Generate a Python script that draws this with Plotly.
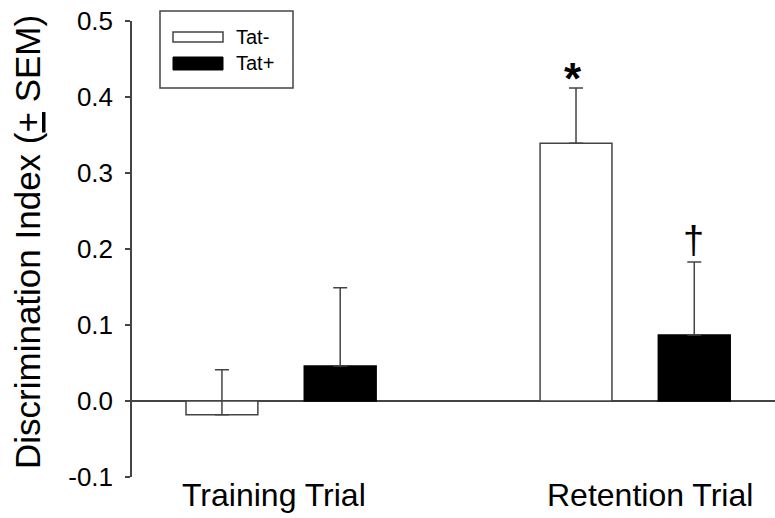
import plotly.graph_objects as go

# ---- data ----
trials = ["Training Trial", "Retention Trial"]
series_names = ["Tat-", "Tat+"]
tat_minus = [-0.018, 0.339]
tat_minus_sem = [0.059, 0.073]
tat_plus = [0.046, 0.087]
tat_plus_sem = [0.103, 0.096]
y_ticks = [-0.1, 0.0, 0.1, 0.2, 0.3, 0.4, 0.5]
y_ticklabels = ["-0.1", "0.0", "0.1", "0.2", "0.3", "0.4", "0.5"]
markers = ["*", "\u2020"]  # significance marks: Tat- retention, Tat+ retention

AX = "#444444"
W, H = 775, 518
ML, MR, MT, MB = 132, 0, 21, 41
PW, PH = W - ML - MR, H - MT - MB


def px(x):
    return (x - ML) / PW


def py(y):
    return (H - MB - y) / PH


fig = go.Figure()
fig.add_trace(go.Bar(
    x=trials, y=tat_minus, name=series_names[0],
    width=0.203, offset=-0.2685,
    marker=dict(color="white", line=dict(color=AX, width=1.5)),
    error_y=dict(type="data", symmetric=False, array=tat_minus_sem,
                 arrayminus=[0, 0], color=AX, thickness=1.5, width=7),
    showlegend=False,
))
fig.add_trace(go.Bar(
    x=trials, y=tat_plus, name=series_names[1],
    width=0.203, offset=0.0655,
    marker=dict(color="black", line=dict(color="black", width=1.5)),
    error_y=dict(type="data", symmetric=False, array=tat_plus_sem,
                 arrayminus=[0, 0], color=AX, thickness=1.5, width=7),
    showlegend=False,
))

font = "Liberation Sans, Arial, sans-serif"
annotations = []
# category labels
for t, xs in zip(trials, [-7, 15]):
    annotations.append(dict(x=t, xref="x", y=0, yref="paper", yanchor="top",
                            xshift=xs, yshift=2, text=t, showarrow=False,
                            font=dict(size=32, color="black", family=font)))
# significance markers
annotations.append(dict(x=trials[1], xref="x", y=tat_minus[1] + tat_minus_sem[1],
                        yref="y", yanchor="bottom", xshift=-62, yshift=-17,
                        text="<b>" + markers[0] + "</b>", showarrow=False,
                        font=dict(size=44, color="black", family=font)))
annotations.append(dict(x=trials[1], xref="x", y=tat_plus[1] + tat_plus_sem[1],
                        yref="y", yanchor="bottom", xshift=58, yshift=-1,
                        text=markers[1], showarrow=False,
                        font=dict(size=38, color="black", family=font)))
# y title
annotations.append(dict(x=px(27), xref="paper", y=py(242), yref="paper",
                        text="Discrimination Index (<u>+</u> SEM)", textangle=-90,
                        showarrow=False, xanchor="center", yanchor="middle",
                        font=dict(size=35, color="black", family=font)))
# manual legend
shapes = [
    dict(type="rect", xref="paper", yref="paper", x0=px(160), x1=px(293),
         y0=py(88), y1=py(11), line=dict(color=AX, width=1.5), fillcolor="white"),
    dict(type="rect", xref="paper", yref="paper", x0=px(173), x1=px(223),
         y0=py(42), y1=py(32), line=dict(color=AX, width=1.5), fillcolor="white"),
    dict(type="rect", xref="paper", yref="paper", x0=px(173), x1=px(223),
         y0=py(70), y1=py(57), line=dict(color="black", width=1), fillcolor="black"),
]
for name, yc in zip(series_names, [37, 63]):
    annotations.append(dict(x=px(234), xref="paper", y=py(yc), yref="paper",
                            xanchor="left", yanchor="middle", text=name,
                            showarrow=False,
                            font=dict(size=20, color="black", family=font)))

fig.update_layout(
    width=W, height=H,
    margin=dict(l=ML, r=MR, t=MT, b=MB),
    paper_bgcolor="white", plot_bgcolor="white",
    barmode="group",
    font=dict(family=font, color="black"),
    xaxis=dict(range=[-0.421, 1.395], showticklabels=False, showline=False,
               showgrid=False, zeroline=False, ticks=""),
    yaxis=dict(range=[-0.1, 0.5], tickvals=y_ticks, ticktext=y_ticklabels,
               showline=True, linecolor=AX, linewidth=1.5, mirror=False,
               ticks="outside", ticklen=5, tickwidth=1.5, tickcolor=AX,
               showgrid=False, zeroline=True, zerolinecolor=AX, zerolinewidth=1.5,
               tickfont=dict(size=26, color="black", family=font),
               ticklabelstandoff=7, automargin=False),
    annotations=annotations,
    shapes=shapes,
)

fig.write_html("out.html", config={"displayModeBar": False},
               post_script="document.body.style.margin='0';document.body.style.padding='0';")
